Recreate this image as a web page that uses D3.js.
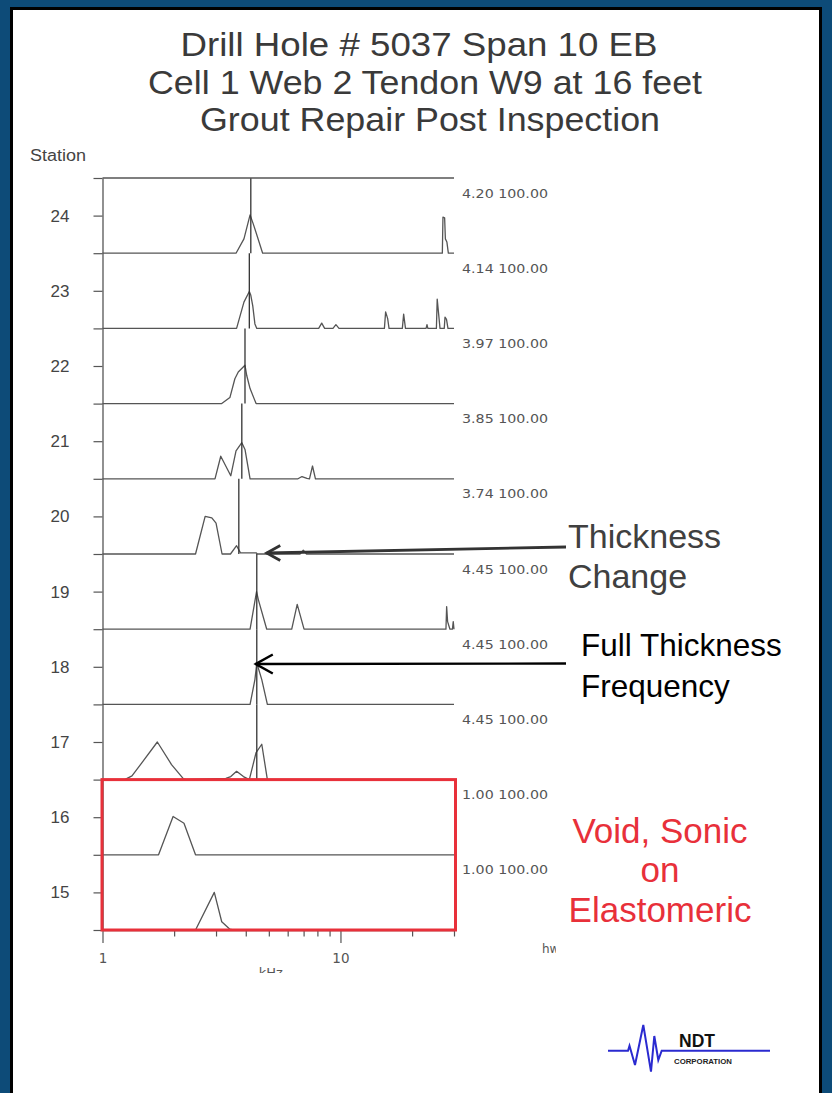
<!DOCTYPE html>
<html><head><meta charset="utf-8">
<script src="https://cdn.jsdelivr.net/npm/d3@7"></script>
<style>body{margin:0;background:#fff}svg{display:block}</style>
</head><body>
<script>
// ---------- DATA ----------
const titleLines = ["Drill Hole # 5037 Span 10 EB", "Cell 1 Web 2 Tendon W9 at 16 feet", "Grout Repair Post Inspection"];
const stations = [24, 23, 22, 21, 20, 19, 18, 17, 16, 15];
const peakFreqs = [4.20, 4.14, 3.97, 3.85, 3.74, 4.45, 4.45, 4.45, 1.00, 1.00];
const peakAmps = [100, 100, 100, 100, 100, 100, 100, 100, 100, 100];
const xTickValues = [1, 2, 3, 4, 5, 6, 7, 8, 9, 10, 20, 30];
const xTickLabels = [1, 10];

// spectra: [frequency kHz, amplitude %]
const spectrum24 = [[1,0],[3.64,0],[3.93,19],[4.17,51],[4.30,39],[4.71,0],[26.8,0],[26.96,48],[27.4,47],[27.6,19],[28.0,15],[28.4,0],[30,0]];
const spectrum23 = [[1,0],[3.66,0],[3.93,35],[4.14,49],[4.20,44],[4.28,30],[4.37,6],[4.45,0],[8.10,0],[8.34,7],[8.58,0],[9.30,0],[9.57,5],[9.86,0],[15.3,0],[15.48,22],[15.79,13],[16.0,0],[18.2,0],[18.43,19],[18.76,0],[22.9,0],[23.1,5],[23.3,0],[25.3,0],[25.5,39],[25.86,19],[26.2,0],[27.3,0],[27.5,15],[27.9,12],[28.3,0],[30,0]];
const spectrum22 = [[1,0],[3.17,0],[3.43,8],[3.60,33],[3.72,42],[3.97,51],[4.04,37],[4.17,20],[4.42,0],[30,0]];
const spectrum21 = [[1,0],[2.97,0],[3.14,30],[3.46,4],[3.64,37],[3.85,48],[3.97,39],[4.17,0],[6.63,0],[6.89,3],[7.23,0.5],[7.41,0],[7.63,17],[7.85,0],[30,0]];
const spectrum20 = [[1,0],[2.46,0],[2.70,50],[2.88,48],[3.00,41],[3.18,0],[3.45,0],[3.66,11],[3.80,1.5],[4.42,1.5],[4.48,0],[6.76,0],[6.98,5],[7.20,0],[30,0]];
const spectrum19 = [[1,0],[4.17,0],[4.44,50],[4.52,39],[4.90,0],[6.24,0],[6.58,33],[7.03,0],[27.75,0],[27.94,30],[28.2,10],[28.85,0],[29.55,0],[29.78,10],[30,0]];
const spectrum18 = [[1,0],[4.17,0],[4.37,33],[4.45,55],[4.67,33],[4.93,0],[30,0]];
const spectrum17 = [[1,0],[1.24,0],[1.33,5],[1.46,22],[1.70,50],[1.95,20],[2.19,1],[2.24,0],[3.30,1.5],[3.46,4],[3.66,11],[3.91,4],[4.14,0],[4.42,36],[4.67,47],[4.93,0],[30,0]];
const spectrum16 = [[1,0],[1.72,0],[1.98,51],[2.20,42],[2.46,0],[30,0]];
const spectrum15 = [[1,0],[2.46,0],[2.95,50],[3.17,11],[3.43,1],[3.53,0],[30,0]];
const spectra = [spectrum24, spectrum23, spectrum22, spectrum21, spectrum20, spectrum19, spectrum18, spectrum17, spectrum16, spectrum15];
const voidStations = [16, 15];

// ---------- LAYOUT ----------
const W = 832, H = 1093;
const FONT = "'Liberation Sans', Arial, sans-serif";
const svg = d3.select("body").append("svg").attr("width", W).attr("height", H);

// frame
svg.append("rect").attr("width", W).attr("height", H).attr("fill", "#0d4b78");
svg.append("rect").attr("x", 10).attr("y", 7).attr("width", 812).attr("height", H).attr("fill", "#000");
svg.append("rect").attr("x", 13).attr("y", 10).attr("width", 806).attr("height", H).attr("fill", "#fff");

// title
const titleX = [419, 425, 430], titleLen = [477, 554, 460];
titleLines.forEach((t, i) => {
  svg.append("text").attr("x", titleX[i]).attr("y", 56 + i * 37.5)
    .attr("text-anchor", "middle").attr("font-family", FONT).attr("font-size", 33.5)
    .attr("fill", "#3a3a3a").attr("textLength", titleLen[i]).attr("lengthAdjust", "spacingAndGlyphs").text(t);
});

// scales
const x = d3.scaleLog().domain([1, 30]).range([102.5, 454]);
const y = d3.scaleLinear().domain([14.5, 24.5]).range([930, 178]);
const panelH = y(0) - y(1);
const amp = d3.scaleLinear().domain([0, 100]).range([0, panelH]);

// traces
const g = svg.append("g");
stations.forEach((s, i) => {
  const base = y(s - 0.5);
  const line = d3.line().x(d => x(d[0])).y(d => base - amp(d[1]));
  g.append("path").attr("d", line(spectra[i])).attr("fill", "none")
    .attr("stroke", "#555").attr("stroke-width", 1.3).attr("stroke-linejoin", "round");
  // peak frequency marker
  g.append("line").attr("x1", x(peakFreqs[i])).attr("x2", x(peakFreqs[i]))
    .attr("y1", base).attr("y2", base - amp(peakAmps[i]))
    .attr("stroke", "#333").attr("stroke-width", 1.3);
  // right label
  g.append("text").attr("x", 462).attr("y", y(s + 0.5) + 19.5)
    .attr("font-family", "'DejaVu Sans', Verdana, sans-serif").attr("font-size", 12.5)
    .attr("fill", "#555").attr("textLength", 86).attr("lengthAdjust", "spacingAndGlyphs")
    .text(peakFreqs[i].toFixed(2) + " " + peakAmps[i].toFixed(2));
});
// top border line
g.append("line").attr("x1", x(1)).attr("x2", x(30)).attr("y1", y(24.5)).attr("y2", y(24.5))
  .attr("stroke", "#555").attr("stroke-width", 1.3);

// y axis
const yTicks = d3.range(14.5, 24.51, 0.5);
const yAxis = svg.append("g").attr("transform", `translate(${x(1)},0)`)
  .call(d3.axisLeft(y).tickValues(yTicks).tickSize(9).tickSizeOuter(0).tickPadding(24)
    .tickFormat(d => Number.isInteger(d) ? String(d) : ""));
yAxis.select(".domain").attr("stroke", "#555").attr("stroke-width", 1.3);
yAxis.selectAll(".tick line").attr("stroke", "#555").attr("stroke-width", 1.2);
yAxis.selectAll(".tick text").attr("font-family", FONT).attr("font-size", 17).attr("fill", "#444");

svg.append("text").attr("x", 30).attr("y", 161).attr("font-family", FONT).attr("font-size", 16)
  .attr("fill", "#444").attr("textLength", 56).attr("lengthAdjust", "spacingAndGlyphs").text("Station");

// x axis
const xAxis = svg.append("g").attr("transform", `translate(0,${y(14.5)})`)
  .call(d3.axisBottom(x).tickValues(xTickValues).tickSizeOuter(0)
    .tickFormat(d => xTickLabels.includes(d) ? String(d) : ""));
xAxis.select(".domain").attr("stroke", "#555").attr("stroke-width", 1.3);
xAxis.selectAll(".tick line").attr("stroke", "#555").attr("stroke-width", 1.2)
  .attr("y2", d => xTickLabels.includes(d) ? 13 : 6.5);
xAxis.selectAll(".tick text").attr("y", 33).attr("dy", 0)
  .attr("font-family", "'DejaVu Sans', Verdana, sans-serif").attr("font-size", 13.5).attr("fill", "#555");

// truncated axis unit texts
const clipK = svg.append("clipPath").attr("id", "clipK");
clipK.append("rect").attr("x", 250).attr("y", 960).attr("width", 60).attr("height", 13);
svg.append("text").attr("x", x(5.1)).attr("y", 977).attr("text-anchor", "middle")
  .attr("clip-path", "url(#clipK)").attr("font-family", "'DejaVu Sans', Verdana, sans-serif")
  .attr("font-size", 13).attr("fill", "#555").text("kHz");
const clipH = svg.append("clipPath").attr("id", "clipH");
clipH.append("rect").attr("x", 535).attr("y", 935).attr("width", 21).attr("height", 25);
svg.append("text").attr("x", 542).attr("y", 953).attr("clip-path", "url(#clipH)")
  .attr("font-family", "'DejaVu Sans', Verdana, sans-serif").attr("font-size", 12).attr("fill", "#555").text("hw");

// void box (stations 16, 15)
const red = "#e8303a";
svg.append("rect").attr("x", x(1) - 0.5).attr("y", y(d3.max(voidStations) + 0.5))
  .attr("width", x(30) + 2 - x(1)).attr("height", y(d3.min(voidStations) - 0.5) - y(d3.max(voidStations) + 0.5))
  .attr("fill", "none").attr("stroke", red).attr("stroke-width", 3);

// annotations
function arrow(x1, y1, tx, ty, len, spread, color, w) {
  svg.append("line").attr("x1", x1).attr("y1", y1).attr("x2", tx).attr("y2", ty)
    .attr("stroke", color).attr("stroke-width", w);
  svg.append("polyline")
    .attr("points", `${tx + len},${ty - spread} ${tx},${ty} ${tx + len},${ty + spread}`)
    .attr("fill", "none").attr("stroke", color).attr("stroke-width", w).attr("stroke-linejoin", "miter");
}
arrow(566, 547, x(4.9), y(19.5) - 1, 13.5, 7.5, "#333", 2.8);
arrow(566, 663.5, x(4.45) - 1, y(18) - 2.8, 17, 9.5, "#000", 2.4);

function label(lines, cx, y0, dy, size, color, anchor) {
  lines.forEach((t, i) => svg.append("text").attr("x", cx).attr("y", y0 + i * dy)
    .attr("text-anchor", anchor).attr("font-family", FONT).attr("font-size", size)
    .attr("fill", color).text(t));
}
label(["Thickness", "Change"], 568, 548, 40, 34, "#404040", "start");
label(["Full Thickness", "Frequency"], 581, 656, 40.5, 31.5, "#000", "start");
label(["Void, Sonic", "on", "Elastomeric"], 660, 842.5, 39.5, 35, red, "middle");

// NDT logo
const logoPts = [[608,1050.7],[628,1050.7],[629.5,1045.7],[635,1065],[643.3,1025],[651,1071.7],[654.3,1036],[658.3,1060],[661.7,1050.7],[770,1050.7]];
svg.append("path").attr("d", d3.line()(logoPts)).attr("fill", "none")
  .attr("stroke", "#2a2ad0").attr("stroke-width", 2);
svg.append("text").attr("x", 679).attr("y", 1047).attr("font-family", FONT).attr("font-weight", "bold")
  .attr("font-size", 17.5).attr("fill", "#111").text("NDT");
svg.append("text").attr("x", 674).attr("y", 1063.5).attr("font-family", FONT).attr("font-weight", "bold")
  .attr("font-size", 7.2).attr("fill", "#222").attr("textLength", 58).attr("lengthAdjust", "spacingAndGlyphs").text("CORPORATION");
</script>
</body></html>
